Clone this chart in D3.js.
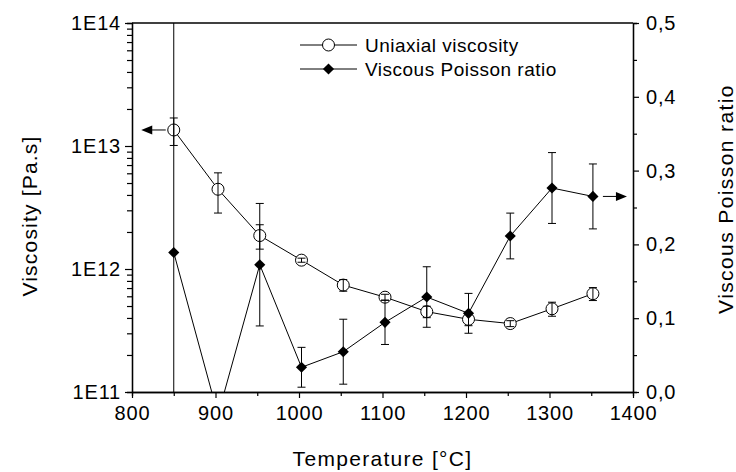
<!DOCTYPE html>
<html>
<head>
<meta charset="utf-8">
<script src="https://cdn.jsdelivr.net/npm/d3@7"></script>
<style>
  html, body { margin: 0; padding: 0; background: #fff; }
  svg { display: block; }
  text { font-family: "Liberation Sans", Arial, Helvetica, sans-serif; fill: #000; }
</style>
</head>
<body>
<svg id="chart" width="736" height="472"></svg>
<script>
// ---- data ----
const temps = [850, 903, 953, 1003, 1053, 1103, 1153, 1203, 1253, 1303, 1352];
const viscosity = [1.35e13, 4.45e12, 1.87e12, 1.18e12, 7.4e11, 5.9e11, 4.5e11, 3.9e11, 3.6e11, 4.75e11, 6.3e11];
const viscosityErr = [3.4e12, 1.6e12, 4.2e11, 4.5e10, 8e10, 3.3e10, 4.8e10, 4.4e10, 2e10, 6.2e10, 7.6e10];
const poisson = [0.189, -0.031, 0.1725, 0.0335, 0.0546, 0.0944, 0.1287, 0.1066, 0.2114, 0.2764, 0.265];
const poissonErr = [0.6, 0, 0.083, 0.027, 0.044, 0.030, 0.041, 0.027, 0.031, 0.048, 0.044];

const xTicks = [800, 900, 1000, 1100, 1200, 1300, 1400];
const xMinorTicks = [850, 950, 1050, 1150, 1250, 1350];
const yLeftTicks = [1e11, 1e12, 1e13, 1e14];
const yLeftLabels = ["1E11", "1E12", "1E13", "1E14"];
const yRightTicks = [0, 0.1, 0.2, 0.3, 0.4, 0.5];
const yRightLabels = ["0,0", "0,1", "0,2", "0,3", "0,4", "0,5"];
const yRightMinor = [0.05, 0.15, 0.25, 0.35, 0.45];

const legendLabels = ["Uniaxial viscosity", "Viscous Poisson ratio"];
const xTitle = "Temperature [°C]";
const yLeftTitle = "Viscosity [Pa.s]";
const yRightTitle = "Viscous Poisson ratio";

// ---- layout ----
const L = 132, R = 633, T = 23, B = 392;
const svg = d3.select("#chart");
svg.append("rect").attr("width", 736).attr("height", 472).attr("fill", "#fff");

const x = d3.scaleLinear().domain([800, 1400]).range([L, R]);
const yL = d3.scaleLog().domain([1e11, 1e14]).range([B, T]);
const yR = d3.scaleLinear().domain([0, 0.5]).range([B, T]);

const leftMinor = [];
for (let e = 11; e < 14; e++) for (let k = 2; k <= 9; k++) leftMinor.push(k * Math.pow(10, e));

function styleAxis(g) {
  g.selectAll("path.domain").attr("stroke", "#000").attr("stroke-width", 1.3);
  g.selectAll(".tick line").attr("stroke", "#000").attr("stroke-width", 1.2);
  g.selectAll("text").attr("font-size", 20).attr("letter-spacing", "0.8px")
    .attr("font-family", '"Liberation Sans", Arial, sans-serif').attr("fill", "#000");
}

// minor axes first
svg.append("g").attr("transform", `translate(0,${B})`)
  .call(d3.axisBottom(x).tickValues(xMinorTicks).tickSize(4).tickFormat(""))
  .call(styleAxis);
svg.append("g").attr("transform", `translate(${L},0)`)
  .call(d3.axisLeft(yL).tickValues(leftMinor).tickSize(5).tickFormat(""))
  .call(styleAxis);
svg.append("g").attr("transform", `translate(${R},0)`)
  .call(d3.axisRight(yR).tickValues(yRightMinor).tickSize(4).tickFormat(""))
  .call(styleAxis);

// major axes
svg.append("g").attr("transform", `translate(0,${B})`)
  .call(d3.axisBottom(x).tickValues(xTicks).tickSize(6).tickPadding(8).tickSizeOuter(0).tickFormat(d => d))
  .call(styleAxis);
svg.append("g").attr("transform", `translate(${L},0)`)
  .call(d3.axisLeft(yL).tickValues(yLeftTicks).tickSize(7).tickPadding(4).tickSizeOuter(0)
    .tickFormat((d, i) => yLeftLabels[i]))
  .call(styleAxis);
svg.append("g").attr("transform", `translate(${R},0)`)
  .call(d3.axisRight(yR).tickValues(yRightTicks).tickSize(6).tickPadding(7).tickSizeOuter(0)
    .tickFormat((d, i) => yRightLabels[i]))
  .call(styleAxis);

// top frame line
svg.append("line").attr("x1", L).attr("x2", R).attr("y1", T).attr("y2", T)
  .attr("stroke", "#000").attr("stroke-width", 1.3);

// titles
svg.append("text").attr("x", (L + R) / 2).attr("y", 466).attr("text-anchor", "middle")
  .attr("font-size", 21).attr("letter-spacing", "1.3px").text(xTitle);
svg.append("text").attr("transform", "translate(37,216) rotate(-90)").attr("text-anchor", "middle")
  .attr("font-size", 21).attr("letter-spacing", "1.2px").text(yLeftTitle);
svg.append("text").attr("transform", "translate(733,199) rotate(-90)").attr("text-anchor", "middle")
  .attr("font-size", 21).attr("letter-spacing", "1.4px").text(yRightTitle);

// clip
svg.append("defs").append("clipPath").attr("id", "plotclip")
  .append("rect").attr("x", L).attr("y", T).attr("width", R - L).attr("height", B - T);
const plot = svg.append("g").attr("clip-path", "url(#plotclip)");

const vData = temps.map((t, i) => ({ t, v: viscosity[i], e: viscosityErr[i] }));
const pData = temps.map((t, i) => ({ t, v: poisson[i], e: poissonErr[i] }));

// lines
plot.append("path").datum(vData)
  .attr("d", d3.line().x(d => x(d.t)).y(d => yL(d.v)))
  .attr("fill", "none").attr("stroke", "#000").attr("stroke-width", 1);
plot.append("path").datum(pData)
  .attr("d", d3.line().x(d => x(d.t)).y(d => yR(d.v)))
  .attr("fill", "none").attr("stroke", "#000").attr("stroke-width", 1);

// markers
plot.selectAll("circle.v").data(vData).join("circle")
  .attr("cx", d => x(d.t)).attr("cy", d => yL(d.v)).attr("r", 6)
  .attr("fill", "#fff").attr("stroke", "#000").attr("stroke-width", 1);

const diamond = d3.symbol().type(d3.symbolSquare).size(62);
plot.selectAll("path.p").data(pData).join("path")
  .attr("d", diamond)
  .attr("transform", d => `translate(${x(d.t)},${yR(d.v)}) rotate(45)`)
  .attr("fill", "#000");

// error bars
function errBars(data, yScale) {
  const g = plot.append("g").attr("stroke", "#000").attr("stroke-width", 1).attr("fill", "none");
  data.filter(d => d.e > 0).forEach(d => {
    const cx = x(d.t), y1 = yScale(d.v + d.e), y2 = yScale(Math.max(d.v - d.e, yScale === yL ? 1e10 : -10));
    g.append("line").attr("x1", cx).attr("x2", cx).attr("y1", y1).attr("y2", y2);
    g.append("line").attr("x1", cx - 4).attr("x2", cx + 4).attr("y1", y1).attr("y2", y1);
    g.append("line").attr("x1", cx - 4).attr("x2", cx + 4).attr("y1", y2).attr("y2", y2);
  });
}
errBars(vData, yL);
errBars(pData, yR);

// arrows indicating axes
function arrow(x0, xTip, y) {
  const dir = Math.sign(xTip - x0);
  svg.append("line").attr("x1", x0).attr("x2", xTip - dir * 10).attr("y1", y).attr("y2", y)
    .attr("stroke", "#000").attr("stroke-width", 1);
  svg.append("path")
    .attr("d", `M${xTip},${y} L${xTip - dir * 11},${y - 4.5} L${xTip - dir * 11},${y + 4.5} Z`)
    .attr("fill", "#000");
}
arrow(x(temps[0]) - 8, x(temps[0]) - 32.5, yL(viscosity[0]));
arrow(x(temps[temps.length - 1]) + 10, x(temps[temps.length - 1]) + 34, yR(poisson[poisson.length - 1]));

// legend
const lg = svg.append("g");
const legY = [45, 69];
legendLabels.forEach((lab, i) => {
  const y = legY[i];
  lg.append("line").attr("x1", 300).attr("x2", 357).attr("y1", y).attr("y2", y)
    .attr("stroke", "#000").attr("stroke-width", 1);
  if (i === 0) {
    lg.append("circle").attr("cx", 328.5).attr("cy", y).attr("r", 6)
      .attr("fill", "#fff").attr("stroke", "#000").attr("stroke-width", 1);
  } else {
    lg.append("path").attr("d", diamond).attr("transform", `translate(328.5,${y}) rotate(45)`).attr("fill", "#000");
  }
  lg.append("text").attr("x", 365).attr("y", y + 7).attr("font-size", 19).attr("letter-spacing", "0.5px").text(lab);
});
</script>
</body>
</html>
